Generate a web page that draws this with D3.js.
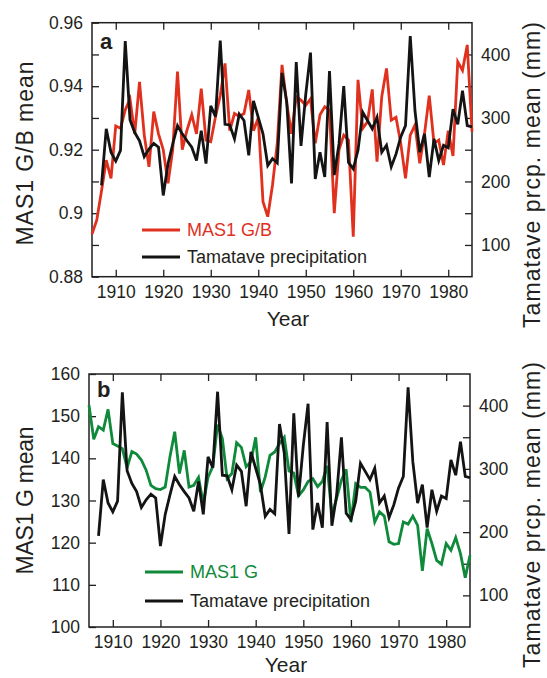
<!DOCTYPE html>
<html><head><meta charset="utf-8">
<script src="https://cdn.jsdelivr.net/npm/d3@7"></script>
<style>
body{margin:0;background:#fff}
svg{display:block}
text{font-family:"Liberation Sans",Arial,Helvetica,sans-serif;fill:#231f20}
</style>
</head><body>
<svg id="c" width="547" height="678"></svg>
<script>
// ---- data ----
const years = [1905,1906,1907,1908,1909,1910,1911,1912,1913,1914,1915,1916,1917,1918,1919,1920,
 1921,1922,1923,1924,1925,1926,1927,1928,1929,1930,1931,1932,1933,1934,1935,1936,1937,1938,1939,1940,
 1941,1942,1943,1944,1945,1946,1947,1948,1949,1950,1951,1952,1953,1954,1955,1956,1957,1958,1959,1960,
 1961,1962,1963,1964,1965,1966,1967,1968,1969,1970,1971,1972,1973,1974,1975,1976,1977,1978,1979,1980,
 1981,1982,1983,1984,1985];

// MAS1 G/B mean (panel a, left axis)
const gbMean = [0.8934,0.8978,0.907,0.9167,0.911,0.9275,0.9267,0.9325,0.936,0.925,0.9414,0.9246,0.9146,0.932,0.925,0.920,
 0.9094,0.920,0.9446,0.920,0.9262,0.931,0.925,0.9392,0.923,0.9225,0.9304,0.937,0.9472,0.926,0.9314,0.9305,0.9314,0.9388,0.926,0.930,
 0.9036,0.8989,0.9089,0.922,0.9467,0.9346,0.925,0.9367,0.9356,0.934,0.936,0.922,0.931,0.9335,0.9325,0.900,0.920,0.9246,0.923,0.8926,
 0.942,0.9267,0.9288,0.939,0.9162,0.9367,0.9456,0.9293,0.9302,0.922,0.911,0.9246,0.9278,0.9157,0.925,0.937,0.922,0.923,0.9152,0.926,
 0.918,0.9477,0.945,0.953,0.9257];

// MAS1 G mean (panel b, left axis)
const gMean = [152.6,144.5,147.5,146.7,151.6,143.5,142.9,142.3,137.8,141.6,141.0,139.6,137.2,133.6,132.8,132.6,
 133.2,140.4,146.3,136.4,141.9,133.2,133.6,135.5,129.3,135.5,138.1,148.0,144.7,135.2,136.4,143.7,142.6,138.0,139.2,145.0,
 132.0,135.6,140.7,141.5,143.5,145.0,137.0,136.5,131.1,132.5,134.5,135.2,133.3,134.5,138.2,126.5,130.5,134.8,137.4,124.9,
 134.0,133.1,133.1,132.0,124.9,127.3,126.3,120.2,119.6,119.8,124.9,124.4,126.3,124.1,113.3,123.3,119.8,115.8,114.9,119.8,
 118.2,121.2,117.4,111.7,117.0];

// Tamatave precipitation (right axis, both panels)
const precipYears = [1907,1908,1909,1910,1911,1912,1913,1914,1915,1916,1917,1918,1919,1920,
 1921,1922,1923,1924,1925,1926,1927,1928,1929,1930,1931,1932,1933,1934,1935,1936,1937,1938,1939,1940,
 1941,1942,1943,1944,1945,1946,1947,1948,1949,1950,1951,1952,1953,1954,1955,1956,1957,1958,1959,1960,
 1961,1962,1963,1964,1965,1966,1967,1968,1969,1970,1971,1972,1973,1974,1975,1976,1977,1978,1979,1980,
 1981,1982,1983,1984,1985];
const precip = [194,283,246,232,249,421,297,277,264,239,251,260,254,178,
 228,259,288,275,264,254,233,280,228,319,302,422,290,289,267,306,296,241,327,301,
 275,225,236,229,371,325,197,388,256,337,403,204,246,207,374,210,259,350,230,220,
 249,309,296,283,301,246,257,223,243,270,288,429,311,246,275,207,267,233,257,253,
 314,290,343,288,286];

// tick values / labels
const yearTicks = [1910,1920,1930,1940,1950,1960,1970,1980];
const gbTicks = [0.88,0.89,0.90,0.91,0.92,0.93,0.94,0.95,0.96];
const gbLabels = [0.88,0.90,0.92,0.94,0.96];
const gTicks = [100,110,120,130,140,150,160];
const precipTicks = [100,150,200,250,300,350,400];
const precipLabels = [100,200,300,400];

const RED = "#e0301e", GREEN = "#0e8a3a", BLACK = "#141414", AXIS = "#231f20";

const svg = d3.select("#c");

function panel(cfg){
  const g = svg.append("g");
  const x = d3.scaleLinear().domain([1905,1985]).range([cfg.x0,cfg.x1]);
  const yL = d3.scaleLinear().domain(cfg.leftDomain).range([cfg.y1,cfg.y0]);
  const yR = d3.scaleLinear().domain([50,450]).range([cfg.y1,cfg.y0]);
  const T = -7, PAD = 9, FS = "17.5px";

  const styleAxis = sel => {
    sel.select(".domain").remove();
    sel.selectAll(".tick line").attr("stroke",AXIS).attr("stroke-width",1.3);
    sel.selectAll("text").style("font-size",FS).attr("fill",AXIS);
  };

  g.append("g").attr("transform",`translate(0,${cfg.y1})`)
    .call(d3.axisBottom(x).tickValues(yearTicks).tickFormat(d3.format("d")).tickSize(T).tickPadding(PAD))
    .call(styleAxis);
  g.append("g").attr("transform",`translate(0,${cfg.y0})`)
    .call(d3.axisTop(x).tickValues(yearTicks).tickFormat("").tickSize(T))
    .call(styleAxis);
  g.append("g").attr("transform",`translate(${cfg.x0},0)`)
    .call(d3.axisLeft(yL).tickValues(cfg.leftTicks).tickFormat(cfg.leftFormat).tickSize(T).tickPadding(PAD))
    .call(styleAxis);
  g.append("g").attr("transform",`translate(${cfg.x1},0)`)
    .call(d3.axisRight(yR).tickValues(precipTicks)
      .tickFormat(d => precipLabels.includes(d) ? d : "").tickSize(T).tickPadding(PAD))
    .call(styleAxis);

  g.append("rect").attr("x",cfg.x0).attr("y",cfg.y0)
    .attr("width",cfg.x1-cfg.x0).attr("height",cfg.y1-cfg.y0)
    .attr("fill","none").attr("stroke",AXIS).attr("stroke-width",1.5);

  const lineL = d3.line().x((d,i)=>x(years[i])).y(d=>yL(d));
  const lineP = d3.line().x((d,i)=>x(precipYears[i])).y(d=>yR(d));

  g.append("path").datum(cfg.series).attr("d",lineL)
    .attr("fill","none").attr("stroke",cfg.color).attr("stroke-width",2.8)
    .attr("stroke-linejoin","miter").attr("stroke-miterlimit",4);
  g.append("path").datum(precip).attr("d",lineP)
    .attr("fill","none").attr("stroke",BLACK).attr("stroke-width",2.8)
    .attr("stroke-linejoin","miter").attr("stroke-miterlimit",4);

  // panel letter
  g.append("text").attr("x",cfg.letterX).attr("y",cfg.letterY)
    .style("font-size","22px").style("font-weight","bold").text(cfg.letter);

  // legend
  const lg = cfg.legend;
  [[cfg.color,cfg.seriesName,lg.y1],[BLACK,"Tamatave precipitation",lg.y2]].forEach(([c,t,yy])=>{
    g.append("line").attr("x1",lg.x).attr("x2",lg.x+38).attr("y1",yy).attr("y2",yy)
      .attr("stroke",c).attr("stroke-width",3);
    g.append("text").attr("x",lg.x+45).attr("y",yy).attr("dy","0.36em")
      .style("font-size","18px").style("fill", c===BLACK ? AXIS : c).text(t);
  });

  // axis titles
  g.append("text").attr("x",cfg.yearX).attr("y",cfg.yearY).attr("text-anchor","middle")
    .style("font-size","21px").text("Year");
  g.append("text").attr("transform",`translate(33,${cfg.leftTitleY}) rotate(-90)`)
    .attr("text-anchor","middle").style("font-size","23px")
    .attr("textLength",cfg.leftTitleLen).attr("lengthAdjust","spacing").text(cfg.leftTitle);
  g.append("text").attr("transform",`translate(540,${cfg.rightTitleY}) rotate(-90)`)
    .attr("text-anchor","middle").style("font-size","23px")
    .attr("textLength",306).attr("lengthAdjust","spacing").text("Tamatave prcp. mean (mm)");
}

panel({
  x0:92, x1:472, y0:22.7, y1:276.7,
  leftDomain:[0.88,0.96], leftTicks:gbTicks,
  leftFormat: d => gbLabels.some(v=>Math.abs(v-d)<1e-9) ? String(+d.toFixed(2)) : "",
  series:gbMean, color:RED, seriesName:"MAS1 G/B",
  letter:"a", letterX:100, letterY:49,
  legend:{x:142, y1:230, y2:257},
  yearX:288, yearY:326, leftTitle:"MAS1 G/B mean", leftTitleY:153.5, leftTitleLen:184, rightTitleY:175
});
panel({
  x0:89, x1:470, y0:374, y1:627,
  leftDomain:[100,160], leftTicks:gTicks,
  leftFormat: d3.format("d"),
  series:gMean, color:GREEN, seriesName:"MAS1 G",
  letter:"b", letterX:97, letterY:397,
  legend:{x:145, y1:572, y2:601},
  yearX:286, yearY:672, leftTitle:"MAS1 G mean", leftTitleY:500.5, leftTitleLen:148, rightTitleY:515
});
</script>
</body></html>
